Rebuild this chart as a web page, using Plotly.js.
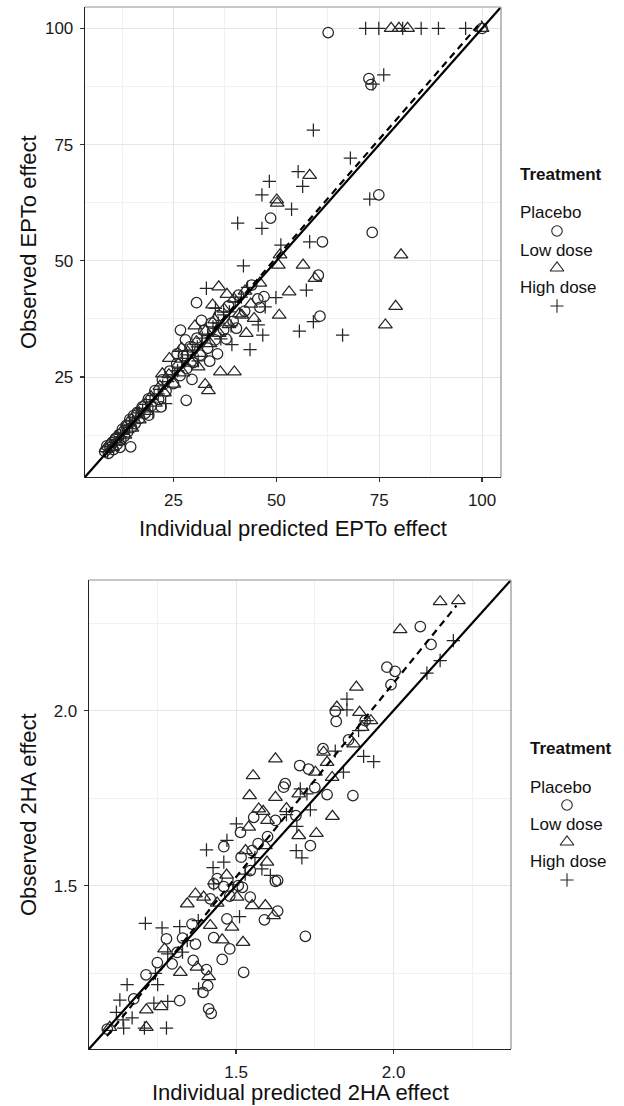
<!DOCTYPE html>
<html>
<head>
<meta charset="utf-8">
<script src="https://cdn.plot.ly/plotly-3.0.1.min.js"></script>
<style>
html,body{margin:0;padding:0;background:#fff;}
#chart{width:624px;height:1106px;}
</style>
</head>
<body>
<div id="chart"></div>
<script>
// ---------------- DATA ----------------
const treatments = ["Placebo", "Low dose", "High dose"];
const legendTitle = "Treatment";

const eptoTicks = [25, 50, 75, 100];
const haTicks = [1.5, 2.0];
const haTickText = ["1.5", "2.0"];

// Top panel: EPTo effect, [individual predicted, observed]
const eptoPlacebo = [
  [62.6,99.1],[72.5,89.2],[73.0,87.9],[74.9,64.2],[48.6,59.2],[73.3,56.1],[61.2,54.1],[60.2,46.9],
  [47.0,42.3],[46.0,40.0],[30.6,41.0],[60.6,38.1],[35.7,30.0],[28.1,20.0],[26.7,35.1],[25.9,30.0],
  [14.6,10.0],[100,100],
  [8.3,9.0],[8.8,10.2],[9.2,8.6],[9.6,9.8],[10.1,10.9],[10.4,9.4],[10.9,11.8],[11.3,10.5],[11.8,12.6],
  [12.2,11.4],[12.6,13.8],[13.1,12.3],[13.5,14.6],[13.9,13.2],[14.4,15.9],[14.8,14.1],[15.3,16.7],
  [15.7,15.0],[16.2,17.4],[16.8,16.1],[17.4,18.6],[18.1,17.2],[18.9,20.3],[19.6,18.8],[20.5,22.1],
  [21.4,20.2],[22.3,24.4],[23.2,22.0],[24.1,26.3],[25.0,23.6],[25.8,27.9],[26.6,25.3],[27.4,29.6],
  [28.2,26.8],[29.0,31.5],[29.8,28.1],[30.7,33.4],[31.5,29.7],[32.4,35.0],[33.3,31.2],[34.2,36.6],
  [35.1,33.0],[36.0,38.2],[37.2,35.1],[38.4,40.3],[39.5,37.0],[40.8,42.6],[42.3,39.2],[44.0,44.8],
  [45.5,41.8],[19.0,16.8],[12.0,9.9],[29.5,24.5],[33.8,28.4],[31.8,37.2],[27.9,33.0],[37.8,33.2],
  [22.0,18.6],[40.3,35.5]
];
const eptoLow = [
  [77.9,100],[79.8,100],[81.9,100],[100,100],[58.1,68.4],[50.1,63.1],[50.2,62.4],[50.9,51.3],
  [80.3,51.3],[50.5,49.1],[56.5,49.1],[59.4,46.2],[36.0,44.4],[46.0,45.2],[53.1,43.3],[41.6,38.3],
  [50.7,38.3],[79.0,40.2],[76.5,36.2],[42.7,34.4],[36.4,26.1],[39.8,26.1],[32.7,23.4],[33.5,22.1],
  [22.3,25.7],
  [8.6,9.6],[9.4,10.6],[10.2,9.9],[11.0,12.1],[11.7,11.2],[12.4,13.3],[13.2,12.5],[14.0,15.2],
  [14.9,14.0],[15.8,17.0],[16.7,15.8],[17.6,18.9],[18.5,17.6],[19.5,20.8],[20.6,19.4],[21.7,23.0],
  [22.8,21.6],[23.9,25.5],[25.1,23.5],[26.2,27.8],[27.3,25.9],[28.4,30.4],[29.5,28.0],[30.6,32.6],
  [31.7,30.1],[32.8,34.9],[33.9,32.2],[35.0,37.3],[36.1,34.4],[37.3,39.6],[38.5,36.3],[39.7,41.8],
  [41.0,38.6],[42.4,43.5],[43.8,40.7],[27.0,31.2],[30.2,36.0],[24.0,29.0],[34.5,40.5],[38.0,42.8],
  [31.0,27.2],[44.6,37.6]
];
const eptoHigh = [
  [71.7,100],[74.9,100],[80.7,100],[85.2,100],[89.4,100],[96.0,100],[76.1,90.0],[73.5,88.0],
  [59.0,78.1],[68.0,72.1],[55.3,69.2],[48.3,67.1],[56.4,66.0],[46.5,64.2],[72.7,63.3],[53.7,61.1],
  [40.6,58.1],[46.5,57.0],[58.1,54.1],[51.1,53.4],[42.0,48.9],[33.0,44.1],[49.9,42.1],[57.3,43.7],
  [47.3,40.1],[59.0,36.9],[45.6,36.2],[55.6,34.9],[66.1,34.0],[46.7,34.0],[39.2,32.0],[43.6,30.9],
  [23.1,19.3],
  [9.0,8.9],[9.8,10.1],[10.6,10.5],[11.4,11.6],[12.1,12.2],[12.9,13.0],[13.6,14.1],[14.3,14.5],
  [15.1,15.6],[15.9,16.2],[16.7,17.3],[17.5,17.9],[18.4,19.1],[19.3,19.6],[20.3,21.0],[21.3,21.4],
  [22.4,23.1],[23.6,24.0],[24.8,25.5],[26.0,26.4],[27.2,28.2],[28.4,29.0],[29.6,30.8],[30.8,31.5],
  [32.0,33.4],[33.3,34.0],[34.6,35.8],[35.9,36.6],[37.2,38.4],[38.6,39.0],[40.0,41.1],[41.5,42.2],
  [43.0,44.3],[31.0,28.5],[36.5,33.2],[26.3,30.5],[20.0,17.5],[35.2,39.8],[39.0,36.0]
];
// dashed fitted line (start/end) and identity line for EPTo
const eptoFitX = [8, 100];
const eptoFitY = [7.9, 101.6];
const eptoIdentity = [0, 120];

// Bottom panel: 2HA effect
const haPlacebo = [
  [2.085,2.240],[2.119,2.189],[1.979,2.124],[2.005,2.112],[1.992,2.074],[1.815,1.998],[1.818,1.969],
  [1.910,1.971],[1.857,1.916],[1.776,1.891],[1.702,1.843],[1.730,1.833],[1.656,1.791],[1.651,1.781],
  [1.789,1.760],[1.871,1.757],[1.556,1.695],[1.625,1.686],[1.514,1.652],[1.600,1.640],[1.461,1.611],
  [1.736,1.614],[1.551,1.600],[1.516,1.581],[1.545,1.543],[1.625,1.512],[1.632,1.515],[1.429,1.505],
  [1.461,1.497],[1.507,1.500],[1.520,1.495],[1.418,1.462],[1.545,1.467],[1.632,1.427],[1.590,1.402],
  [1.471,1.405],[1.720,1.355],[1.429,1.351],[1.279,1.348],[1.480,1.319],[1.371,1.333],[1.313,1.309],
  [1.456,1.289],[1.364,1.286],[1.297,1.276],[1.406,1.260],[1.524,1.252],[1.214,1.245],[1.410,1.214],
  [1.395,1.195],[1.175,1.176],[1.321,1.171],[1.413,1.148],[1.421,1.135],[1.091,1.090],
  [1.360,1.390],[1.330,1.350],[1.440,1.520],[1.480,1.470],[1.570,1.620],[1.690,1.700],[1.750,1.780],
  [1.250,1.280]
];
const haLow = [
  [2.148,2.311],[2.206,2.314],[2.021,2.231],[1.882,2.067],[1.820,2.010],[1.892,1.995],[1.928,1.971],
  [1.900,1.952],[1.873,1.905],[1.778,1.881],[1.625,1.862],[1.789,1.852],[1.752,1.824],[1.554,1.814],
  [1.805,1.809],[1.543,1.757],[1.625,1.752],[1.699,1.762],[1.572,1.719],[1.586,1.712],[1.806,1.698],
  [1.600,1.686],[1.540,1.667],[1.699,1.643],[1.755,1.649],[1.593,1.614],[1.598,1.567],[1.371,1.476],
  [1.345,1.448],[1.397,1.467],[1.503,1.467],[1.551,1.443],[1.593,1.443],[1.619,1.414],[1.487,1.381],
  [1.418,1.386],[1.522,1.338],[1.456,1.345],[1.273,1.319],[1.376,1.267],[1.323,1.252],[1.413,1.240],
  [1.262,1.154],[1.215,1.145],[1.099,1.095],[1.215,1.095],
  [1.440,1.450],[1.470,1.530],[1.530,1.600],[1.660,1.720]
];
const haHigh = [
  [2.190,2.200],[2.148,2.143],[2.106,2.107],[1.852,2.033],[1.852,2.002],[1.916,1.971],[1.889,1.943],
  [1.815,1.884],[1.905,1.869],[1.937,1.854],[1.841,1.824],[1.704,1.776],[1.725,1.762],[1.660,1.703],
  [1.736,1.716],[1.501,1.676],[1.693,1.669],[1.471,1.629],[1.406,1.602],[1.691,1.600],[1.709,1.579],
  [1.461,1.567],[1.427,1.551],[1.582,1.548],[1.609,1.529],[1.529,1.533],[1.429,1.505],[1.490,1.502],
  [1.511,1.411],[1.212,1.392],[1.265,1.379],[1.321,1.383],[1.345,1.343],[1.283,1.305],[1.244,1.249],
  [1.154,1.217],[1.251,1.217],[1.381,1.205],[1.131,1.173],[1.239,1.164],[1.283,1.169],[1.120,1.138],
  [1.170,1.122],[1.141,1.116],[1.143,1.093],[1.209,1.093],[1.279,1.093],
  [1.330,1.310],[1.380,1.400],[1.560,1.580]
];
const haFitX = [1.09, 2.2];
const haFitY = [1.07, 2.30];
const haIdentity = [0.5, 3];

// ---------------- LAYOUT HELPERS ----------------
const W = 624, H = 1106;
const fx = p => p / W;
const fy = p => 1 - p / H;
const FONT = "Liberation Sans, Arial, Helvetica, sans-serif";
const INK = "#262626";

const symbols = ["circle-open", "triangle-up-open", "cross-thin-open"];
const sizes = [10.5, 12, 9.5];

function pts(arr, xa, ya, i) {
  return {
    type: "scatter", mode: "markers",
    x: arr.map(d => d[0]), y: arr.map(d => d[1]),
    xaxis: xa, yaxis: ya, name: treatments[i], showlegend: false,
    marker: {symbol: symbols[i], size: sizes[i], color: INK, line: {color: INK, width: 1.25}},
    cliponaxis: true, hoverinfo: "skip"
  };
}
function line(x, y, xa, ya, dash) {
  return {type: "scatter", mode: "lines", x: x, y: y, xaxis: xa, yaxis: ya, showlegend: false,
    line: {color: "#000", width: 2.2, dash: dash}, hoverinfo: "skip"};
}

const traces = [
  pts(eptoPlacebo, "x", "y", 0), pts(eptoLow, "x", "y", 1), pts(eptoHigh, "x", "y", 2),
  line(eptoIdentity, eptoIdentity, "x", "y", "solid"),
  line(eptoFitX, eptoFitY, "x", "y", "7px,5px"),
  pts(haPlacebo, "x2", "y2", 0), pts(haLow, "x2", "y2", 1), pts(haHigh, "x2", "y2", 2),
  line(haIdentity, haIdentity, "x2", "y2", "solid"),
  line(haFitX, haFitY, "x2", "y2", "7px,5px")
];

// Legend keys (pixel coordinate helper axis)
const legendBlocks = [
  {left: 518, top: 175, symX: 557},
  {left: 528, top: 749, symX: 567}
];
const labelOffsets = [38, 75, 112];
const symOffsets = [56, 93, 131];
const annotations = [];
legendBlocks.forEach(b => {
  annotations.push({xref: "paper", yref: "paper", x: fx(b.left), y: fy(b.top), xanchor: "left", yanchor: "middle",
    text: "<b>" + legendTitle + "</b>", showarrow: false, font: {family: FONT, size: 17, color: "#111"}});
  treatments.forEach((t, i) => {
    annotations.push({xref: "paper", yref: "paper", x: fx(b.left), y: fy(b.top + labelOffsets[i]), xanchor: "left", yanchor: "middle",
      text: t, showarrow: false, font: {family: FONT, size: 17, color: "#111"}});
  });
});
treatments.forEach((t, i) => {
  traces.push({type: "scatter", mode: "markers", xaxis: "x3", yaxis: "y3", showlegend: false, hoverinfo: "skip",
    x: legendBlocks.map(b => b.symX), y: legendBlocks.map(b => b.top + symOffsets[i]),
    marker: {symbol: symbols[i], size: sizes[i], color: INK, line: {color: INK, width: 1.1}}, cliponaxis: false});
});

// Axis titles
function title(text, x, y, rot) {
  annotations.push({xref: "paper", yref: "paper", x: fx(x), y: fy(y), xanchor: "center", yanchor: "middle",
    text: text, textangle: rot, showarrow: false, font: {family: FONT, size: 22, color: "#111"}});
}
title("Observed EPTo effect", 28, 242, -90);
title("Individual predicted EPTo effect", 293, 529, 0);
title("Observed 2HA effect", 28, 815, -90);
title("Individual predicted 2HA effect", 300, 1092, 0);

function axis(domain, range, tickvals, ticktext, minorDtick, anchor) {
  return {
    domain: domain, range: range, anchor: anchor, tickmode: "array", tickvals: tickvals, ticktext: ticktext,
    showline: true, linecolor: "#222", linewidth: 1.3, mirror: false,
    ticks: "outside", ticklen: 4, tickwidth: 1.2, tickcolor: "#333",
    tickfont: {family: FONT, size: 17, color: "#1a1a1a"}, ticklabelstandoff: 3,
    showgrid: true, gridcolor: "#e6e6e6", gridwidth: 1, zeroline: false,
    minor: {dtick: minorDtick, tick0: 0, showgrid: true, gridcolor: "#f1f1f1", gridwidth: 1, ticks: ""},
    fixedrange: true
  };
}

const eptoRange = [3.5, 104.6];
const haRange = [1.033, 2.373];

const layout = {
  width: W, height: H, margin: {l: 0, r: 0, t: 0, b: 0},
  paper_bgcolor: "#fff", plot_bgcolor: "rgba(0,0,0,0)",
  font: {family: FONT, color: "#111"},
  showlegend: false,
  xaxis: axis([fx(85), fx(501)], eptoRange, eptoTicks, eptoTicks.map(String), 12.5, "y"),
  yaxis: axis([fy(477), fy(7)], eptoRange, eptoTicks, eptoTicks.map(String), 12.5, "x"),
  xaxis2: axis([fx(89), fx(511)], haRange, haTicks, haTickText, 0.25, "y2"),
  yaxis2: axis([fy(1049), fy(580)], haRange, haTicks, haTickText, 0.25, "x2"),
  xaxis3: {domain: [0, 1], range: [0, W], visible: false, fixedrange: true, anchor: "y3"},
  yaxis3: {domain: [0, 1], range: [H, 0], visible: false, fixedrange: true, anchor: "x3"},
  annotations: annotations,
  shapes: [
    {type: "line", xref: "x domain", yref: "y domain", x0: 0, x1: 1, y0: 1, y1: 1, line: {color: "#b5b5b5", width: 1.3}},
    {type: "line", xref: "x domain", yref: "y domain", x0: 1, x1: 1, y0: 0, y1: 1, line: {color: "#9a9a9a", width: 1.3}},
    {type: "line", xref: "x2 domain", yref: "y2 domain", x0: 0, x1: 1, y0: 1, y1: 1, line: {color: "#b5b5b5", width: 1.3}},
    {type: "line", xref: "x2 domain", yref: "y2 domain", x0: 1, x1: 1, y0: 0, y1: 1, line: {color: "#9a9a9a", width: 1.3}}
  ]
};

Plotly.newPlot("chart", traces, layout, {staticPlot: true, displayModeBar: false});
</script>
</body>
</html>
